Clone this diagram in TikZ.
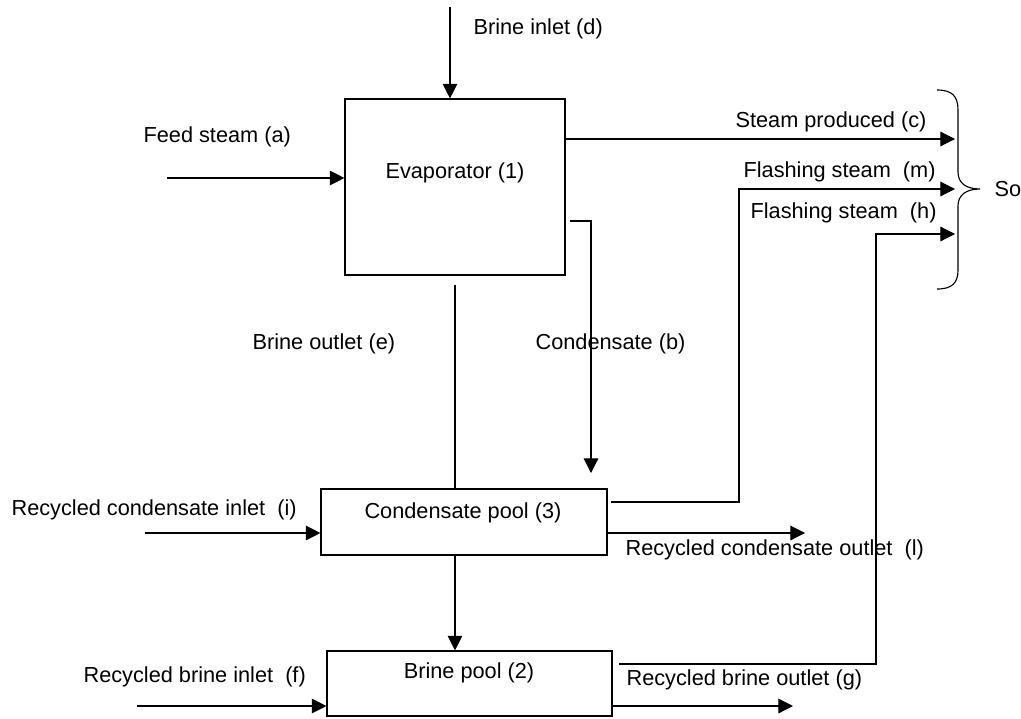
\documentclass[tikz,border=0pt]{standalone}
\usepackage{fontspec}
\setmainfont{Liberation Sans}
\usetikzlibrary{arrows.meta}

\begin{document}
\begin{tikzpicture}[x=0.75pt,y=-0.75pt,line width=0.85pt,
	box/.style={draw,rectangle,inner sep=0pt},
	flow/.style={-{Triangle[length=11pt,width=11pt]}},
	txt/.style={inner sep=0pt,anchor=west,font=\fontsize{16.3}{19}\selectfont}]
\useasboundingbox (0,0) rectangle (1021,718);
% the three units
\node[box,minimum width=165pt,minimum height=132pt] (E) at (455,187) {};
\node[box,minimum width=214.5pt,minimum height=49.5pt] (C) at (464,522) {};
\node[box,minimum width=213.75pt,minimum height=48.75pt] (B) at (469.5,683.5) {};
\node[txt,anchor=center] (Et) at (455,173) {Evaporator (1)};
\node[txt,anchor=center] (Ct) at (463,513) {Condensate pool (3)};
\node[txt,anchor=center] (Bt) at (469,673) {Brine pool (2)};
% free ends of the streams
\coordinate (d) at (450,7);
\coordinate (a) at (167,178);
\coordinate (c) at (955,139);
\coordinate (b) at (591,221);
\coordinate (b2) at (591,473);
\coordinate (i) at (145,533);
\coordinate (m) at (739,502);
\coordinate (m2) at (955,189);
\coordinate (l) at (805,533);
\coordinate (f) at (137,706);
\coordinate (g) at (793,706);
\coordinate (h) at (876,664);
\coordinate (h2) at (955,234);
% streams
\draw[flow] (d) -- (d |- E.north);
\draw[flow] (a) -- (a -| E.west);
\draw[flow] (c -| E.east) -- (c);
\draw[flow] ([xshift=3pt]b -| E.east) -- (b) -- (b2);
\draw ([yshift=-6.75pt]E.south) -- (E.south |- C.north);
\draw[flow] (i) -- (i -| C.west);
\draw[flow] ([xshift=2.25pt]m -| C.east) -- (m) -- (m |- m2) -- (m2);
\draw[flow] (l -| C.east) -- (l);
\draw[flow] (C.south -| E.south) -- (B.north -| E.south);
\draw[flow] (f) -- (f -| B.west);
\draw[flow] (g -| B.east) -- (g);
\draw[flow] ([xshift=5pt]h -| B.east) -- (h) -- (h |- h2) -- (h2);
% brace gathering the steam
\draw (937,90) .. controls (952,90) and (958,96) .. (958,110) -- (958,172)
	.. controls (958,183) and (966,189) .. (980,189)
	.. controls (966,189) and (958,195) .. (958,206) -- (958,270)
	.. controls (958,283) and (952,289) .. (937,289);
% stream labels
\node[txt] (dl) at (473,29) {Brine inlet (d)};
\node[txt] (al) at (143,137) {Feed steam (a)};
\node[txt] (cl) at (735,122) {Steam produced (c)};
\node[txt] (ml) at (743,172) {Flashing steam~ (m)};
\node[txt] (hl) at (750,213) {Flashing steam~ (h)};
\node[txt] (el) at (252,344) {Brine outlet (e)};
\node[txt] (bl) at (535,344) {Condensate (b)};
\node[txt] (il) at (11,510) {Recycled condensate inlet~ (i)};
\node[txt] (ll) at (625,550) {Recycled condensate outlet~ (l)};
\node[txt] (fl) at (83,677) {Recycled brine inlet~ (f)};
\node[txt] (gl) at (626,680) {Recycled brine outlet (g)};
\node[txt] (So) at (994,189) {So};
\end{tikzpicture}
\end{document}
